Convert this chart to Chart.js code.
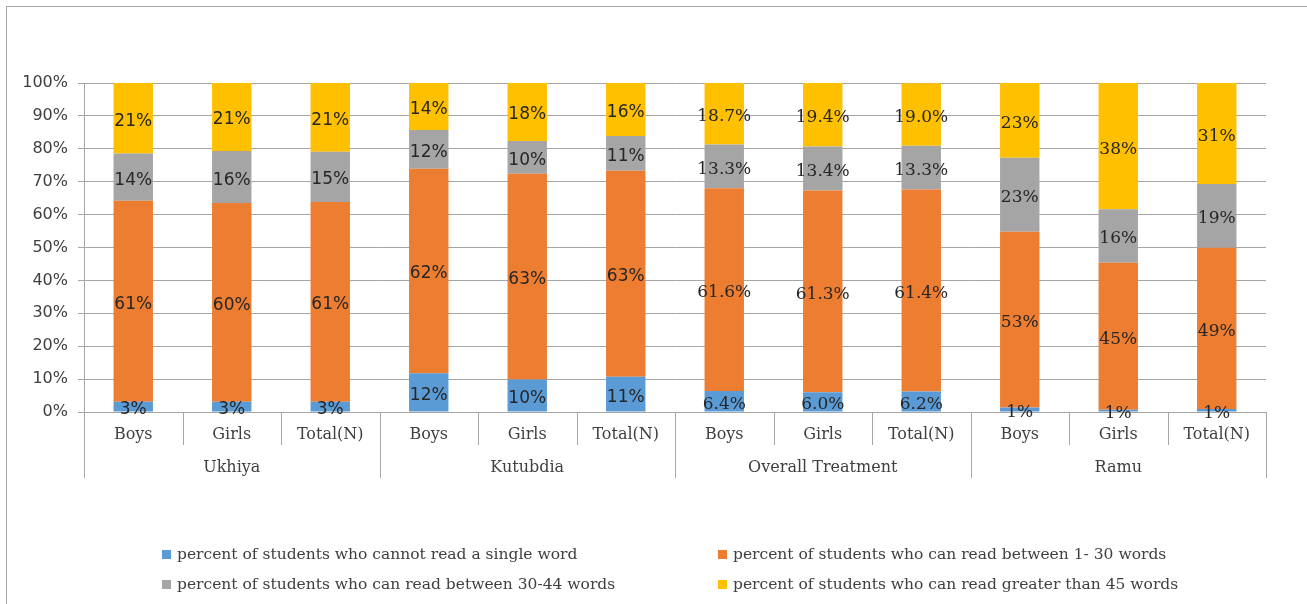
<!DOCTYPE html>
<html lang="en">
  <head>
    <meta charset="UTF-8" />
    <title>Reading levels</title>
    <script src="https://cdn.jsdelivr.net/npm/chart.js"></script>
    <style>
      body {
        margin: 0;
        background: #ffffff;
        overflow: hidden;
      }
      .frame {
        position: absolute;
        left: 6px;
        top: 6px;
        width: 1400px;
        height: 700px;
        border: 1px solid #a6a6a6;
      }
      .chart-box {
        position: absolute;
        left: 0;
        top: 0;
        width: 1307px;
        height: 604px;
      }
      .legend {
        position: absolute;
        left: 162px;
        top: 539px;
        display: grid;
        grid-template-columns: 556px auto;
        grid-auto-rows: 30px;
        font-family: "DejaVu Serif", serif;
        font-size: 15.5px;
        color: #404040;
      }
      .legend div {
        display: flex;
        align-items: center;
      }
      .legend span.box {
        width: 9px;
        height: 9px;
        margin-right: 6px;
      }
    </style>
  </head>
  <body>
    <div class="frame"></div>
    <div class="chart-box">
      <canvas id="chart"></canvas>
    </div>
    <div class="legend" id="legend"></div>

    <script>
      const categories = ["Boys", "Girls", "Total(N)", "Boys", "Girls", "Total(N)", "Boys", "Girls", "Total(N)", "Boys", "Girls", "Total(N)"];
      const groups = ["Ukhiya", "Kutubdia", "Overall Treatment", "Ramu"];

      const cannotRead = [3.1, 3.1, 3.1, 11.8, 9.9, 10.7, 6.4, 6.0, 6.2, 1.4, 0.7, 0.9];
      const read1to30 = [61.1, 60.4, 60.7, 62.1, 62.5, 62.6, 61.6, 61.3, 61.4, 53.4, 44.7, 49.0];
      const read30to44 = [14.4, 15.8, 15.3, 11.8, 10.0, 10.6, 13.3, 13.4, 13.3, 22.5, 16.2, 19.4];
      const read45plus = [21.4, 20.7, 20.9, 14.3, 17.6, 16.1, 18.7, 19.4, 19.0, 22.7, 38.4, 30.7];

      // decimals shown in the data labels, per bar
      const labelDecimals = [0, 0, 0, 0, 0, 0, 1, 1, 1, 0, 0, 0];
      const yTicks = [0, 10, 20, 30, 40, 50, 60, 70, 80, 90, 100];

      const seriesNames = [
        "percent of students who cannot read a single word",
        "percent of students who can read between 1- 30 words",
        "percent of students who can read between 30-44 words",
        "percent of students who can read greater than 45 words",
      ];
      const colors = ["#5b9bd5", "#ed7d31", "#a5a5a5", "#ffc000"];
      const gridColor = "#a6a6a6";

      // labels in the middle of each segment
      const segmentLabels = {
        id: "segmentLabels",
        afterDatasetsDraw(chart) {
          const ctx = chart.ctx;
          ctx.save();
          ctx.textAlign = "center";
          ctx.textBaseline = "middle";
          ctx.fillStyle = "#262626";
          chart.data.datasets.forEach((ds, di) => {
            const meta = chart.getDatasetMeta(di);
            meta.data.forEach((bar, i) => {
              const p = bar.getProps(["x", "y", "base"], true);
              const serif = i >= 6;
              ctx.font = serif ? "17px 'DejaVu Serif'" : "17px 'DejaVu Sans'";
              const txt = ds.data[i].toFixed(labelDecimals[i]) + "%";
              ctx.fillText(txt, p.x, (p.y + p.base) / 2 + 3);
            });
          });
          ctx.restore();
        },
      };

      // two-level category axis: separators and group names
      const groupAxis = {
        id: "groupAxis",
        afterDraw(chart) {
          const ctx = chart.ctx;
          const x = chart.scales.x;
          const bottom = chart.chartArea.bottom;
          const step = (x.right - x.left) / categories.length;
          ctx.save();
          ctx.strokeStyle = gridColor;
          ctx.lineWidth = 1;
          for (let i = 0; i <= categories.length; i++) {
            const px = Math.round(x.left + i * step) + 0.5;
            const len = i % 3 === 0 ? 66 : 33;
            ctx.beginPath();
            ctx.moveTo(px, bottom);
            ctx.lineTo(px, bottom + len);
            ctx.stroke();
          }
          ctx.fillStyle = "#404040";
          ctx.font = "16px 'DejaVu Serif'";
          ctx.textAlign = "center";
          ctx.textBaseline = "middle";
          groups.forEach((g, gi) => {
            ctx.fillText(g, x.getPixelForValue(gi * 3 + 1), bottom + 56);
          });
          ctx.restore();
        },
      };

      const ctx = document.getElementById("chart").getContext("2d");
      new Chart(ctx, {
        type: "bar",
        data: {
          labels: categories,
          datasets: [
            { label: seriesNames[0], data: cannotRead, backgroundColor: colors[0] },
            { label: seriesNames[1], data: read1to30, backgroundColor: colors[1] },
            { label: seriesNames[2], data: read30to44, backgroundColor: colors[2] },
            { label: seriesNames[3], data: read45plus, backgroundColor: colors[3] },
          ],
        },
        options: {
          responsive: true,
          maintainAspectRatio: false,
          animation: false,
          datasets: {
            bar: { categoryPercentage: 1, barPercentage: 0.4, borderWidth: 0 },
          },
          layout: { padding: { left: 7, right: 41, top: 83, bottom: 0 } },
          plugins: {
            legend: { display: false },
            tooltip: { enabled: false },
          },
          scales: {
            x: {
              stacked: true,
              grid: { display: false, drawTicks: false },
              border: { display: false },
              ticks: {
                padding: 13,
                maxRotation: 0,
                autoSkip: false,
                color: "#404040",
                font: { family: "DejaVu Serif", size: 16 },
              },
              afterFit(scale) {
                scale.height = 192;
              },
            },
            y: {
              stacked: true,
              min: 0,
              max: 100,
              grid: { color: gridColor, drawTicks: true, tickLength: 6 },
              border: { display: true, color: gridColor },
              afterBuildTicks(scale) {
                scale.ticks = yTicks.map((v) => ({ value: v }));
              },
              ticks: {
                padding: 10,
                color: "#404040",
                font: { family: "DejaVu Sans", size: 16 },
                callback: (v) => v + "%",
              },
              afterFit(scale) {
                scale.width = 77;
              },
            },
          },
        },
        plugins: [segmentLabels, groupAxis],
      });

      // legend in two columns
      const legend = document.getElementById("legend");
      seriesNames.forEach((name, i) => {
        const item = document.createElement("div");
        const box = document.createElement("span");
        box.className = "box";
        box.style.background = colors[i];
        item.appendChild(box);
        item.appendChild(document.createTextNode(name));
        legend.appendChild(item);
      });
    </script>
  </body>
</html>
